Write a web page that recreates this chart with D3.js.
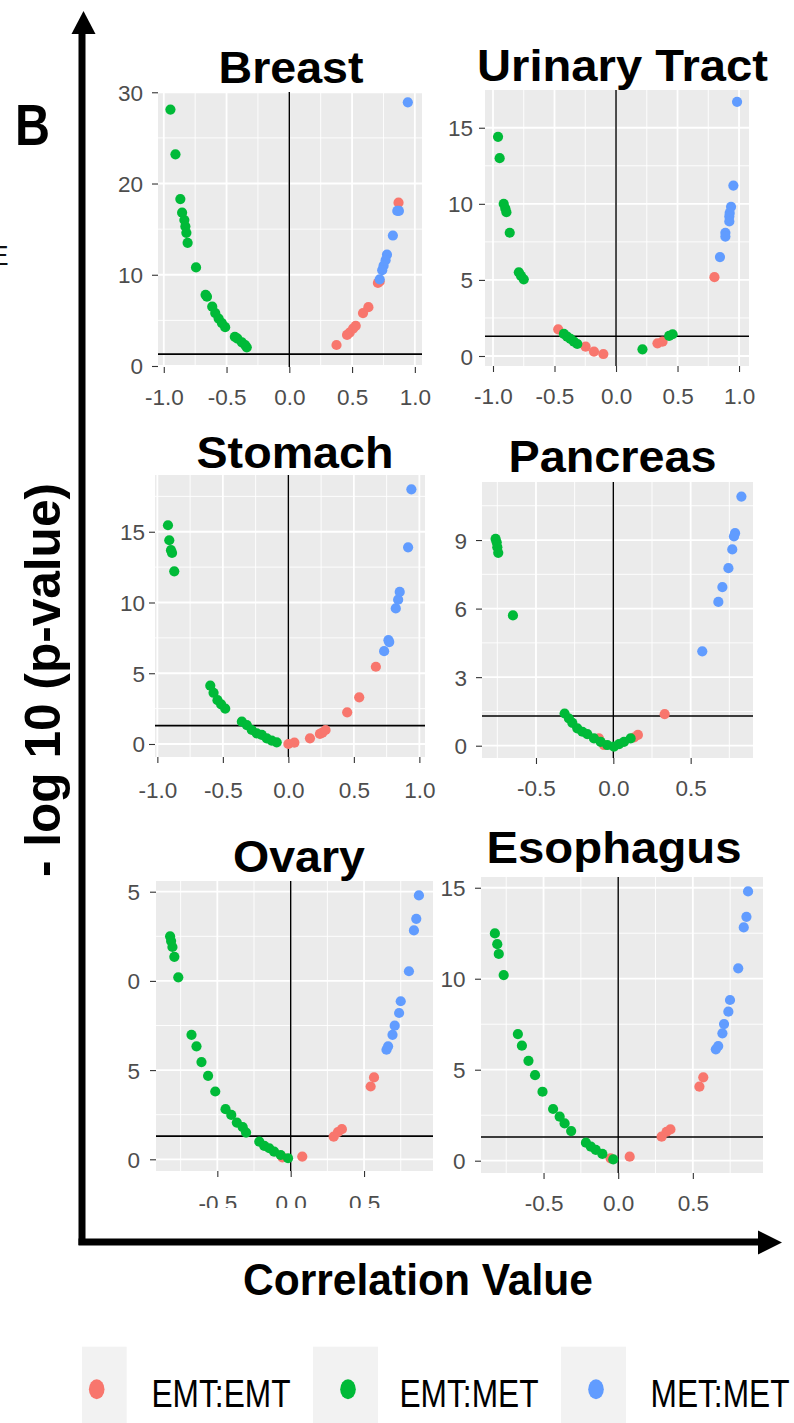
<!DOCTYPE html>
<html><head><meta charset="utf-8">
<script src="https://cdn.jsdelivr.net/npm/d3@7"></script>
<style>
body{margin:0;background:#fff;}
svg{display:block;}
text{font-family:"Liberation Sans",Arial,Helvetica,sans-serif;}
</style></head><body>
<svg id="c" width="794" height="1423"></svg>
<script>
// ---------- data ----------
const seriesNames = ["EMT:EMT", "EMT:MET", "MET:MET"];
const seriesColors = ["#F8766D", "#00BA38", "#619CFF"];
const panelTitles = ["Breast", "Urinary Tract", "Stomach", "Pancreas", "Ovary", "Esophagus"];
const pThreshold = -Math.log10(0.05);

const breastEmtEmt = [[0.376,2.3],[0.46,3.4],[0.481,3.66],[0.508,4.1],[0.529,4.4],[0.587,5.8],[0.63,6.45],[0.706,9.1],[0.72,9.27],[0.87,17.9]];
const breastEmtMet = [[-0.947,28.1],[-0.907,23.2],[-0.868,18.3],[-0.854,16.8],[-0.836,16.0],[-0.828,15.3],[-0.82,14.6],[-0.81,13.5],[-0.743,10.8],[-0.667,7.8],[-0.656,7.6],[-0.614,6.5],[-0.59,5.8],[-0.563,5.2],[-0.537,4.7],[-0.511,4.25],[-0.434,3.2],[-0.413,3.0],[-0.378,2.6],[-0.352,2.3],[-0.339,2.05]];
const breastMetMet = [[0.944,28.9],[0.873,17.0],[0.86,17.0],[0.825,14.3],[0.778,12.2],[0.767,11.6],[0.751,11.0],[0.74,10.5],[0.72,9.5]];

const urinaryEmtEmt = [[-0.47,1.75],[-0.247,0.61],[-0.179,0.29],[-0.103,0.13],[0.337,0.83],[0.378,0.94],[0.8,5.18]];
const urinaryEmtMet = [[-0.959,14.4],[-0.946,13.0],[-0.913,10.0],[-0.9,9.7],[-0.891,9.45],[-0.864,8.1],[-0.79,5.5],[-0.772,5.26],[-0.75,5.04],[-0.424,1.45],[-0.397,1.27],[-0.37,1.12],[-0.342,0.94],[-0.315,0.79],[0.215,0.44],[0.432,1.32],[0.46,1.43]];
const urinaryMetMet = [[0.984,16.7],[0.954,11.2],[0.935,9.8],[0.924,9.4],[0.921,9.17],[0.921,8.84],[0.889,8.1],[0.889,7.85],[0.845,6.5]];

const stomachEmtEmt = [[0.0,0.0],[0.046,0.09],[0.165,0.4],[0.241,0.71],[0.26,0.8],[0.284,0.99],[0.449,2.24],[0.541,3.3],[0.668,5.46]];
const stomachEmtMet = [[-0.919,15.46],[-0.909,14.4],[-0.896,13.7],[-0.888,13.5],[-0.871,12.2],[-0.596,4.12],[-0.571,3.62],[-0.541,3.1],[-0.513,2.8],[-0.482,2.5],[-0.355,1.58],[-0.317,1.34],[-0.279,0.99],[-0.241,0.75],[-0.203,0.64],[-0.165,0.4],[-0.127,0.24],[-0.089,0.12]];
const stomachMetMet = [[0.731,6.56],[0.764,7.34],[0.77,7.2],[0.82,9.58],[0.838,10.2],[0.85,10.75],[0.914,13.9],[0.939,18.0]];

const pancreasEmtEmt = [[-0.093,0.32],[-0.06,0.03],[0.134,0.36],[0.159,0.47],[0.332,1.38]];
const pancreasEmtMet = [[-0.761,9.05],[-0.754,8.9],[-0.75,8.69],[-0.744,8.44],[-0.649,5.7],[-0.315,1.41],[-0.287,1.19],[-0.265,1.0],[-0.233,0.76],[-0.2,0.61],[-0.168,0.51],[-0.125,0.32],[-0.082,0.17],[-0.039,0.03],[0.004,-0.04],[0.037,0.07],[0.069,0.17],[0.112,0.32]];
const pancreasMetMet = [[0.828,10.9],[0.787,9.3],[0.78,9.16],[0.769,8.59],[0.744,7.77],[0.705,6.94],[0.679,6.29],[0.575,4.13]];

const ovaryEmtEmt = [[-0.056,0.11],[0.079,0.15],[0.293,1.27],[0.322,1.52],[0.349,1.69],[0.545,4.08],[0.568,4.59]];
const ovaryEmtMet = [[-0.822,12.5],[-0.815,12.23],[-0.806,11.9],[-0.793,11.35],[-0.766,10.2],[-0.676,6.98],[-0.642,6.33],[-0.608,5.45],[-0.563,4.68],[-0.514,3.8],[-0.444,2.81],[-0.405,2.49],[-0.367,2.06],[-0.327,1.8],[-0.304,1.5],[-0.214,0.99],[-0.18,0.75],[-0.146,0.62],[-0.113,0.43],[-0.068,0.24],[-0.018,0.06]];
const ovaryMetMet = [[0.653,6.14],[0.664,6.33],[0.694,6.98],[0.709,7.49],[0.739,8.2],[0.75,8.86],[0.806,10.54],[0.84,12.83],[0.856,13.48],[0.874,14.79]];

const esophagusEmtEmt = [[-0.051,0.13],[0.077,0.22],[0.291,1.32],[0.324,1.59],[0.35,1.72],[0.544,4.07],[0.57,4.58]];
const esophagusEmtMet = [[-0.826,12.49],[-0.81,11.9],[-0.8,11.36],[-0.767,10.2],[-0.672,6.96],[-0.645,6.32],[-0.601,5.49],[-0.557,4.7],[-0.507,3.79],[-0.436,2.84],[-0.392,2.42],[-0.359,2.05],[-0.315,1.63],[-0.216,0.99],[-0.183,0.77],[-0.15,0.59],[-0.106,0.37],[-0.033,0.07]];
const esophagusMetMet = [[0.654,6.12],[0.67,6.3],[0.698,7.0],[0.709,7.51],[0.738,8.19],[0.749,8.83],[0.804,10.57],[0.841,12.82],[0.859,13.4],[0.87,14.8]];

const xTicksWide = [-1, -0.5, 0, 0.5, 1];
const xTicksNarrow = [-0.5, 0, 0.5];
const xMinor = [-0.75, -0.25, 0.25, 0.75];
const breastYTicks = [0, 10, 20, 30];
const breastYMinor = [5, 15, 25];
const fiveYTicks = [0, 5, 10, 15];
const fiveYMinor = [2.5, 7.5, 12.5, 17.5];
const pancreasYTicks = [0, 3, 6, 9];
const pancreasYMinor = [1.5, 4.5, 7.5, 10.5];

const yAxisTitle = "- log 10 (p-value)";
const xAxisTitle = "Correlation Value";
const panelLetter = "B";

// ---------- layout ----------
const panels = [
  {title: panelTitles[0], series: [breastEmtEmt, breastEmtMet, breastMetMet],
   box: [158, 422, 92, 367], xd: [-1.046, 1.057], yd: [-0.11, 30.03],
   xt: xTicksWide, yt: breastYTicks, ym: breastYMinor,
   tx: 291, ty: 83, tw: 145, gap: 15, xoff: 30},
  {title: panelTitles[1], series: [urinaryEmtEmt, urinaryEmtMet, urinaryMetMet],
   box: [485, 749, 90, 366], xd: [-1.065, 1.081], yd: [-0.657, 17.48],
   xt: xTicksWide, yt: fiveYTicks, ym: fiveYMinor,
   tx: 622.5, ty: 81, tw: 291, gap: 12, xoff: 30},
  {title: panelTitles[2], series: [stomachEmtEmt, stomachEmtMet, stomachMetMet],
   box: [155, 425, 475, 757], xd: [-1.018, 1.043], yd: [-0.919, 19.01],
   xt: xTicksWide, yt: fiveYTicks, ym: fiveYMinor,
   tx: 295, ty: 468, tw: 197, gap: 10, xoff: 33},
  {title: panelTitles[3], series: [pancreasEmtEmt, pancreasEmtMet, pancreasMetMet],
   box: [482, 753, 482, 758], xd: [-0.849, 0.903], yd: [-0.538, 11.54],
   xt: xTicksNarrow, yt: pancreasYTicks, ym: pancreasYMinor,
   tx: 612.5, ty: 471.5, tw: 208, gap: 15, xoff: 30},
  {title: panelTitles[4], series: [ovaryEmtEmt, ovaryEmtMet, ovaryMetMet],
   box: [156, 433, 881, 1171], xd: [-0.918, 0.970], yd: [-0.656, 15.6],
   xt: xTicksNarrow, yt: fiveYTicks, ym: fiveYMinor,
   tx: 299, ty: 871.5, tw: 132, gap: 16, xoff: 32, clip: [128, 0, 700, 1208]},
  {title: panelTitles[5], series: [esophagusEmtEmt, esophagusEmtMet, esophagusMetMet],
   box: [481, 763, 877, 1173], xd: [-0.919, 0.970], yd: [-0.676, 15.59],
   xt: xTicksNarrow, yt: fiveYTicks, ym: fiveYMinor,
   tx: 614, ty: 863, tw: 255, gap: 15.5, xoff: 30}
];

const svg = d3.select("#c");
const defs = svg.append("defs");

panels.forEach((p, i) => {
  const [L, R, T, B] = p.box;
  const x = d3.scaleLinear().domain(p.xd).range([L, R]);
  const y = d3.scaleLinear().domain(p.yd).range([B, T]);
  let g = svg.append("g");
  if (p.clip) {
    defs.append("clipPath").attr("id", "pc" + i).append("rect")
      .attr("x", p.clip[0]).attr("y", p.clip[1]).attr("width", p.clip[2]).attr("height", p.clip[3] - p.clip[1]);
    g.attr("clip-path", `url(#pc${i})`);
  }
  g.append("rect").attr("x", L).attr("y", T).attr("width", R - L).attr("height", B - T).attr("fill", "#EBEBEB");
  const inX = v => v >= p.xd[0] && v <= p.xd[1];
  const inY = v => v >= p.yd[0] && v <= p.yd[1];
  // minor grid
  g.selectAll(null).data(xMinor.filter(inX)).enter().append("line")
    .attr("x1", d => x(d)).attr("x2", d => x(d)).attr("y1", T).attr("y2", B)
    .attr("stroke", "#fff").attr("stroke-width", 0.9);
  g.selectAll(null).data(p.ym.filter(inY)).enter().append("line")
    .attr("y1", d => y(d)).attr("y2", d => y(d)).attr("x1", L).attr("x2", R)
    .attr("stroke", "#fff").attr("stroke-width", 0.9);
  // major grid
  g.selectAll(null).data(p.xt.filter(inX)).enter().append("line")
    .attr("x1", d => x(d)).attr("x2", d => x(d)).attr("y1", T).attr("y2", B)
    .attr("stroke", "#fff").attr("stroke-width", 1.8);
  g.selectAll(null).data(p.yt.filter(inY)).enter().append("line")
    .attr("y1", d => y(d)).attr("y2", d => y(d)).attr("x1", L).attr("x2", R)
    .attr("stroke", "#fff").attr("stroke-width", 1.8);
  // reference lines
  g.append("line").attr("x1", x(0)).attr("x2", x(0)).attr("y1", T).attr("y2", B)
    .attr("stroke", "#000").attr("stroke-width", 1.4);
  g.append("line").attr("x1", L).attr("x2", R).attr("y1", y(pThreshold)).attr("y2", y(pThreshold))
    .attr("stroke", "#000").attr("stroke-width", 1.6);
  // points
  p.series.forEach((s, si) => {
    g.selectAll(null).data(s).enter().append("circle")
      .attr("cx", d => x(d[0])).attr("cy", d => y(d[1])).attr("r", 5.1)
      .attr("fill", seriesColors[si]);
  });
  // axes
  const ax = g.append("g").attr("transform", `translate(0,${B})`)
    .call(d3.axisBottom(x).tickValues(p.xt).tickSize(6).tickFormat(d => d.toFixed(1)));
  const ay = g.append("g").attr("transform", `translate(${L},0)`)
    .call(d3.axisLeft(y).tickValues(p.yt).tickSize(6).tickFormat(d => String(d)));
  [ax, ay].forEach(a => {
    a.select(".domain").remove();
    a.selectAll(".tick line").attr("stroke", "#333").attr("stroke-width", 1.1);
    a.selectAll(".tick text").attr("fill", "#4D4D4D").attr("font-size", 22.5)
      .attr("font-family", '"Liberation Sans", Arial, sans-serif');
  });
  ax.selectAll(".tick text").attr("y", p.xoff + 8).attr("dy", null);
  ay.selectAll(".tick text").attr("x", -p.gap).attr("y", 8).attr("dy", null);
  // title
  g.append("text").attr("x", p.tx).attr("y", p.ty).attr("text-anchor", "middle")
    .attr("font-size", 45).attr("font-weight", "bold").attr("fill", "#000")
    .attr("textLength", p.tw).attr("lengthAdjust", "spacingAndGlyphs").text(p.title);
});

// ---------- big arrows ----------
svg.append("line").attr("x1", 82).attr("x2", 82).attr("y1", 1245).attr("y2", 30)
  .attr("stroke", "#000").attr("stroke-width", 7);
svg.append("path").attr("d", "M83.5,11 L71.5,34 L95.5,34 Z").attr("fill", "#000");
svg.append("line").attr("x1", 78.5).attr("x2", 760).attr("y1", 1242).attr("y2", 1242)
  .attr("stroke", "#000").attr("stroke-width", 7);
svg.append("path").attr("d", "M782,1242.5 L758,1230.5 L758,1254.5 Z").attr("fill", "#000");

// axis titles
svg.append("text").attr("transform", "translate(60,680) rotate(-90)").attr("text-anchor", "middle")
  .attr("font-size", 50).attr("font-weight", "bold").attr("textLength", 394)
  .attr("lengthAdjust", "spacingAndGlyphs").text(yAxisTitle);
svg.append("text").attr("x", 418).attr("y", 1295).attr("text-anchor", "middle")
  .attr("font-size", 44).attr("font-weight", "bold").attr("textLength", 350)
  .attr("lengthAdjust", "spacingAndGlyphs").text(xAxisTitle);
svg.append("text").attr("x", 15).attr("y", 145).attr("font-size", 58).attr("font-weight", "bold")
  .attr("textLength", 35).attr("lengthAdjust", "spacingAndGlyphs").text(panelLetter);
svg.append("text").attr("x", -10).attr("y", 265).attr("font-size", 28).attr("fill", "#111").text("E");

// ---------- legend ----------
const legendDotX = [96.7, 348, 596];
const legendTextX = [151.5, 399.5, 650.5];
defs.append("clipPath").attr("id", "legclip").append("rect")
  .attr("x", 82).attr("y", 0).attr("width", 800).attr("height", 1423);
const lg = svg.append("g").attr("clip-path", "url(#legclip)");
seriesNames.forEach((n, i) => {
  lg.append("rect").attr("x", legendDotX[i] - 35).attr("y", 1346.7).attr("width", 65).attr("height", 90)
    .attr("fill", "#F2F2F2");
  lg.append("ellipse").attr("cx", legendDotX[i]).attr("cy", 1389.3).attr("rx", 7.8).attr("ry", 10)
    .attr("fill", seriesColors[i]);
  lg.append("text").attr("x", legendTextX[i]).attr("y", 1406.7).attr("font-size", 39.5)
    .attr("textLength", 139).attr("lengthAdjust", "spacingAndGlyphs").attr("fill", "#000").text(n);
});
</script>
</body></html>
